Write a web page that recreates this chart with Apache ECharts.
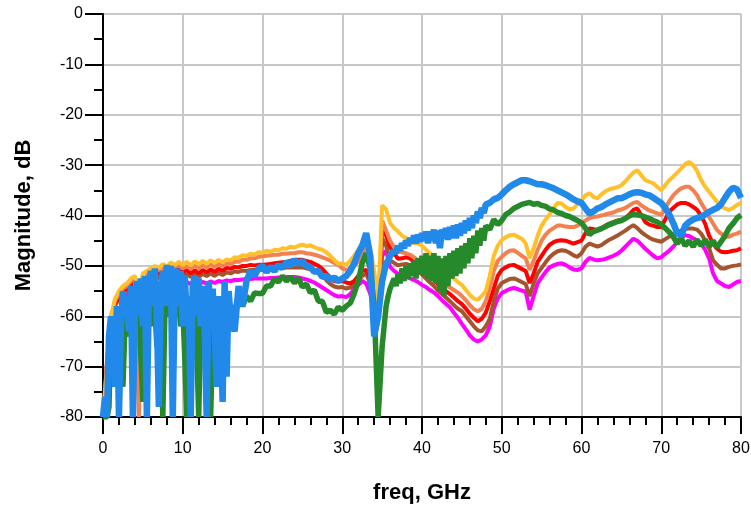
<!DOCTYPE html>
<html>
<head>
<meta charset="utf-8">
<script src="https://cdn.jsdelivr.net/npm/echarts@6/dist/echarts.min.js"></script>
<style>
  html, body { margin: 0; padding: 0; background: #fff; }
  #chart { width: 751px; height: 506px; }
</style>
</head>
<body>
<div id="chart"></div>
<script>
// frequency grids, GHz
// coarse grid (0.5 GHz) for the smooth traces
var freq = [];
for (var i = 0; i <= 160; i++) freq.push(i * 0.5);
// finer grid where the blue / green traces are noisy
var fineSegments = [[0, 16, 0.25], [16.5, 35.5, 0.5], [35.75, 48, 0.25], [48.5, 80, 0.5]];
var freqFine = [];
fineSegments.forEach(function (s) {
    for (var f = s[0]; f <= s[1] + 1e-9; f += s[2]) freqFine.push(Math.round(f * 100) / 100);
});

// magnitudes in dB, on freq
var yellow = [
  -80, -70, -60, -56.5, -55, -54, -53.5, -52.5, -52, -55,
  -51.5, -51, -50.5, -50, -50.5, -49.6, -50.2, -49.3, -49.8, -49.2,
  -49.8, -49.2, -49.9, -49.1, -49.7, -49.0, -49.6, -48.9, -49.4, -48.8,
  -49.3, -48.7, -48.9, -48.3, -48.4, -47.9, -48.0, -47.6, -47.8, -47.3,
  -47.4, -47.0, -47.2, -46.8, -46.9, -46.5, -46.6, -46.2, -46.4, -46.0,
  -45.8, -46.1, -45.9, -46.3, -46.6, -46.8, -47.3, -48.0, -48.8, -49.6,
  -49.5, -49.8, -49.0, -48.0, -46.8, -45.5, -45.0, -46.5, -51.0, -57.0,
  -38.0, -38.8, -41.5, -42.5, -43.2, -44.0, -44.5, -45.0, -45.5, -45.5,
  -46.0, -46.8, -47.5, -48.5, -49.5, -50.3, -51.0, -51.8, -52.5, -53.2,
  -53.8, -54.8, -55.8, -56.5, -56.7, -56.0, -55.0, -52.0, -48.0, -46.0,
  -44.9, -44.3, -43.9, -43.8, -44.2, -44.6, -45.5, -48.5, -46.5, -44.0,
  -42.0, -40.8, -39.8, -38.6, -37.5, -37.6, -38.3, -38.8, -38.6, -37.8,
  -37.0, -36.0, -35.6, -36.3, -36.6, -35.8, -35.2, -34.8, -34.6, -34.4,
  -34.0, -33.2, -32.3, -31.5, -31.0, -32.0, -33.0, -33.3, -33.6, -34.3,
  -35.0, -34.0, -33.0, -32.3, -31.5, -30.7, -29.8, -29.4, -30.0, -31.2,
  -33.0, -34.3, -35.3, -36.3, -37.3, -38.3, -38.6, -38.9, -38.5, -37.9,
  -37.5
];
var orange = [
  -80, -70, -61, -57, -55.5, -54.5, -54, -53, -52.5, -80,
  -55, -51.8, -51.3, -51.0, -50.8, -50.5, -50.3, -50.0, -50.2, -49.8,
  -50.5, -50.0, -50.6, -49.9, -50.5, -49.8, -50.3, -49.7, -50.2, -49.6,
  -50.0, -49.5, -49.6, -49.2, -49.2, -48.8, -48.8, -48.5, -48.5, -48.2,
  -48.1, -48.0, -47.9, -47.8, -47.8, -47.6, -47.6, -47.5, -47.5, -47.3,
  -47.3, -47.5, -47.6, -47.8, -48.0, -48.3, -48.6, -49.0, -49.4, -49.8,
  -50.5, -50.8, -50.5, -50.0, -49.2, -48.0, -46.5, -48.0, -53.0, -59.0,
  -41.0, -43.0, -45.0, -46.3, -47.0, -47.3, -47.5, -47.8, -48.3, -48.9,
  -49.6, -50.3, -51.0, -51.8, -52.5, -53.2, -53.8, -54.3, -54.8, -55.3,
  -56.0, -56.8, -57.8, -58.6, -59.0, -58.5, -57.0, -54.5, -51.0, -49.0,
  -48.2, -47.5, -47.0, -46.9, -47.4, -48.0, -48.5, -50.8, -49.0, -46.8,
  -45.0, -43.8, -43.0, -42.5, -42.0, -42.0, -42.2, -42.3, -42.3, -42.0,
  -41.5, -41.0, -40.5, -40.3, -40.2, -40.0, -39.8, -39.6, -39.4, -39.0,
  -38.8, -38.5, -38.0, -37.5, -37.3, -38.0, -38.5, -39.0, -39.3, -39.6,
  -39.9, -38.5, -37.2, -36.0, -35.2, -34.6, -34.3, -34.3, -35.0, -36.0,
  -37.5, -38.8, -40.3, -41.6, -42.9, -43.6, -44.2, -44.2, -43.8, -43.6,
  -43.2
];
var red = [
  -80, -69, -61, -57.5, -56, -55, -54.5, -53.5, -53, -74,
  -56, -52.5, -52, -51.8, -51.5, -51.3, -51.0, -50.8, -51.0, -50.6,
  -51.3, -50.8, -51.5, -50.9, -51.5, -50.8, -51.3, -50.7, -51.2, -50.6,
  -51.0, -50.4, -50.6, -50.2, -50.3, -50.0, -50.0, -49.8, -49.9, -49.8,
  -49.8, -49.7, -49.6, -49.5, -49.4, -49.3, -49.2, -49.0, -48.9, -48.8,
  -48.8, -49.0, -49.2, -49.6, -50.0, -50.6, -51.5, -52.3, -53.0, -53.1,
  -53.0, -53.3, -53.5, -53.0, -52.0, -51.0, -50.8, -52.5, -56.0, -60.0,
  -42.5, -44.0, -46.3, -47.5, -48.6, -48.5, -48.3, -48.5, -49.3, -49.8,
  -50.5, -51.3, -52.0, -52.8, -53.6, -54.3, -55.0, -55.6, -56.3, -57.0,
  -57.6, -58.5, -59.5, -60.3, -61.0, -60.5, -59.3, -57.0, -54.5, -52.0,
  -50.8, -50.3, -49.9, -49.8, -50.2, -50.6, -51.0, -53.4, -51.5, -49.2,
  -48.0, -46.8, -45.8, -45.3, -45.0, -44.9, -45.0, -45.3, -45.6, -45.3,
  -45.0, -43.5, -42.6, -42.7, -42.9, -42.5, -42.0, -41.6, -41.3, -41.0,
  -40.9, -40.5, -39.8, -38.9, -38.6, -40.0, -41.3, -41.8, -42.0, -42.3,
  -42.3, -40.8, -39.2, -38.5, -37.8, -37.5, -37.5, -37.8, -38.3, -38.9,
  -40.0, -41.6, -44.0, -45.6, -46.6, -47.2, -47.3, -47.2, -47.0, -46.9,
  -46.5
];
var brown = [
  -80, -72, -62, -58, -56.5, -55.5, -55, -54, -53.5, -75,
  -57, -53.2, -52.8, -52.5, -52.3, -52.0, -51.8, -51.6, -51.8, -51.5,
  -52.0, -51.6, -52.2, -51.6, -52.2, -51.6, -52.0, -51.5, -52.0, -51.4,
  -51.8, -51.3, -51.5, -51.1, -51.2, -50.9, -51.0, -50.8, -50.8, -50.7,
  -50.8, -50.6, -50.5, -50.5, -50.4, -50.3, -50.3, -50.3, -50.3, -50.3,
  -50.3, -50.5, -50.7, -51.0, -51.3, -51.8, -52.8, -53.6, -54.1, -54.3,
  -54.2, -54.5, -54.3, -53.7, -53.0, -52.0, -51.5, -53.5, -57.0, -60.5,
  -44.5, -46.0, -48.9, -49.4, -49.9, -49.7, -49.6, -49.9, -50.4, -51.0,
  -51.7, -52.5, -53.3, -54.0, -54.9, -55.6, -56.3, -57.0, -57.8, -58.5,
  -59.0, -60.0, -61.0, -62.0, -62.8, -63.0, -62.0, -60.5, -57.0, -54.5,
  -53.4, -53.0, -52.6, -52.5, -52.8, -53.2, -53.6, -56.0, -53.5, -51.5,
  -50.4, -49.3, -48.3, -47.6, -47.1, -46.9, -47.0, -47.4, -47.9, -48.2,
  -47.5, -46.2, -45.6, -45.9, -46.2, -45.9, -45.3, -44.8, -44.4, -44.0,
  -43.5, -43.0, -42.4, -41.9, -42.5, -43.3, -43.9, -44.4, -44.8, -45.0,
  -45.2, -44.7, -44.2, -43.8, -43.4, -43.0, -42.7, -42.6, -42.6, -42.8,
  -43.6, -44.9, -46.5, -48.9, -49.8, -50.5, -50.5, -50.2, -50.0, -49.9,
  -49.7
];
var magenta = [
  -80, -72, -60, -58, -59, -57, -56, -55, -54.5, -73,
  -58, -55, -54.5, -54, -54, -53.8, -53.5, -53.3, -53.4, -53.2,
  -53.5, -53.2, -53.6, -53.2, -53.6, -53.2, -53.5, -53.1, -53.4, -53.0,
  -53.2, -52.9, -53.0, -52.8, -52.8, -52.7, -52.6, -52.6, -52.5, -52.5,
  -52.5, -52.5, -52.4, -52.4, -52.3, -52.3, -52.2, -52.2, -52.2, -52.3,
  -52.5, -52.7, -53.0, -53.3, -53.8, -54.3, -54.8, -55.3, -55.8, -56.1,
  -56.0, -56.2, -55.6, -54.5, -53.8, -53.0, -53.5, -55.5, -58.5, -61.0,
  -48.0, -47.0, -50.2, -51.0, -51.6, -51.9, -52.2, -52.5, -52.8, -53.2,
  -53.8, -54.2, -54.8, -55.3, -56.0, -56.8, -57.5, -58.2, -59.3, -60.3,
  -61.5, -62.6, -63.8, -64.6, -65.0, -64.6, -63.8, -62.0, -58.5, -56.5,
  -55.4, -55.0, -54.6, -54.4, -54.6, -54.9, -55.1, -58.7, -56.0, -53.5,
  -52.3, -51.2, -50.3, -49.9, -49.6, -49.5, -49.8, -50.3, -50.7, -50.8,
  -50.5, -49.2, -48.4, -48.7, -48.9, -48.8, -48.6, -48.3, -48.0, -47.6,
  -47.0, -46.2, -45.4, -44.6, -45.0, -45.8, -46.6, -47.3, -48.0, -48.5,
  -48.3, -47.6, -47.0, -46.2, -45.3, -44.4, -43.9, -44.1, -44.5, -44.9,
  -45.6, -46.8, -48.5, -51.5, -53.0, -53.5, -54.0, -54.2, -53.7, -53.2,
  -53.0
];

// magnitudes in dB on freqFine
var green = [
  // 0 .. 16 (0.25)
  -80, -80, -80, -78,  -62, -66, -60, -64,  -60, -66, -74, -62,
  -58, -64, -60, -66,  -58, -62, -56, -68,  -77, -62, -56, -60,
  -55, -62, -58, -66,  -54, -62, -80, -60,  -56, -60, -58, -62,
  -55, -60, -57, -62,  -58, -68, -80, -64,  -56, -60, -58, -66,
  -80, -62, -57, -60,  -58, -66, -80, -64,  -58, -62, -60, -64,
  -60, -62, -64, -60,  -58,
  // 16.5 .. 35.5 (0.5)
  -59, -56, -58, -56, -57, -55.4, -55.5,
  -55.5, -54.0, -54.0, -52.6, -53.2, -52.0, -53.0, -52.2, -53.4, -52.4,
  -54.2, -53.6, -55.3, -54.8, -57.0, -57.0, -59.2, -58.8, -59.6, -58.2,
  -58.8, -58.0, -57.4, -55.5, -53.0, -49.5, -47.5, -50.5, -58.0, -80.0,
  -66.0, -58.0,
  // 35.75 .. 48 (0.25)
  -56, -54.5, -53.5, -52.5, -54, -51.5, -53.5, -50.5, -53, -50,
  -52.5, -49.5, -52, -49, -52.5, -48.5, -51.5, -48, -52, -47.5,
  -52.5, -48, -53, -47.5, -53.5, -48, -55, -48.5, -56, -48,
  -54, -47.5, -52.5, -47, -52, -46.5, -51.5, -46, -50.5, -45.5,
  -49.5, -44.5, -48.5, -44, -47.5, -43, -46, -42.5, -45, -42,
  // 48.5 .. 80 (0.5)
  -42.8, -40.8, -41.8,
  -41.0, -39.8, -39.3, -38.6, -38.2, -37.8, -37.6, -37.4, -37.8, -37.6,
  -38.0, -38.2, -38.7, -38.9, -39.4, -39.6, -40.0, -40.2, -40.6, -41.0,
  -41.5, -42.5, -43.8, -43.2, -42.9, -42.6, -42.2, -41.8, -41.5, -41.2,
  -41.0, -40.6, -40.1, -39.8, -39.9, -40.0, -40.3, -40.6, -41.0, -41.3,
  -41.8, -42.5, -43.3, -44.2, -45.6, -44.5, -46.0, -45.0, -46.2, -44.8,
  -46.0, -44.8, -46.2, -45.0, -46.3, -45.2, -44.0, -42.5, -41.6, -40.5,
  -39.9
];
var blue = [
  // 0 .. 16 (0.25)
  -80, -76, -80, -64,  -60, -66, -74, -58,  -80, -62, -55, -60,
  -56, -63, -54, -80,  -58, -53, -60, -52.5,  -62, -52, -80, -55,
  -51, -58, -50.5, -60,  -78, -56, -51, -58,  -49.8, -57, -50, -80,
  -54, -50.5, -58, -51,  -62, -52, -60, -56,  -80, -54, -52, -60,
  -52.5, -62, -54, -62,  -80, -53, -60, -54.5,  -63, -74, -56, -62,
  -77, -53, -72, -55,  -60,
  // 16.5 .. 35.5 (0.5)
  -63, -54, -58, -53, -51, -52, -50.5,
  -50.0, -51.2, -50.2, -51.0, -49.8, -50.5, -49.2, -50.0, -48.8, -49.6,
  -49.0, -50.0, -50.3, -51.2, -51.0, -52.2, -52.0, -52.8, -52.3, -53.0,
  -52.5, -52.0, -51.0, -49.5, -47.5, -46.0, -43.5, -48.0, -64.0, -60.0,
  -53.0, -49.5,
  // 35.75 .. 48 (0.25)
  -49, -48, -47.5, -47, -47.5, -46, -47, -45.5, -46.5, -45,
  -46, -44.5, -45.5, -44, -45.5, -43.8, -45.2, -43.5, -45, -43.2,
  -45.5, -43.2, -45, -42.8, -45.5, -43, -46.5, -42.8, -44.5, -42.5,
  -44.8, -42.3, -44.5, -42, -44.5, -41.8, -44, -41.5, -43.5, -41,
  -43, -40.5, -42.5, -40, -41.5, -39.2, -40.5, -38.5, -39.5, -37.8,
  // 48.5 .. 80 (0.5)
  -37.5, -36.8, -36.5,
  -35.8, -35.0, -34.3, -33.8, -33.4, -33.0, -33.0, -33.2, -33.5, -33.8,
  -33.8, -34.0, -34.3, -34.6, -35.0, -35.4, -35.8, -36.3, -36.8, -37.2,
  -37.5, -38.6, -39.6, -39.2, -38.6, -38.3, -37.8, -37.4, -37.0, -36.6,
  -36.6, -36.2, -35.8, -35.5, -35.4, -35.5, -35.8, -36.0, -36.5, -37.0,
  -37.5, -38.5, -39.8, -41.5, -43.5, -44.0, -42.0, -41.3, -40.8, -40.5,
  -40.3, -39.8, -39.3, -38.9, -38.5, -37.8, -36.5, -35.3, -34.5, -34.8,
  -36.5
];

var xTicks = [0, 10, 20, 30, 40, 50, 60, 70, 80];
var yTicks = [-80, -70, -60, -50, -40, -30, -20, -10, 0];

var chart = echarts.init(document.getElementById('chart'));

function line(name, xs, values, color, width) {
    return {
        name: name,
        type: 'line',
        symbol: 'none',
        data: xs.map(function (f, i) { return [f, values[i]]; }),
        lineStyle: { color: color, width: width },
        itemStyle: { color: color },
        clip: true
    };
}

var font = 'Liberation Sans, Arial, sans-serif';

chart.setOption({
    animation: false,
    backgroundColor: '#fff',
    grid: { left: 103, right: 10, top: 14, bottom: 89, containLabel: false, outerBoundsMode: 'none' },
    xAxis: {
        type: 'value',
        min: xTicks[0],
        max: xTicks[xTicks.length - 1],
        interval: 10,
        name: 'freq, GHz',
        nameLocation: 'middle',
        nameGap: 65,
        nameTextStyle: { fontFamily: font, fontSize: 22, fontWeight: 'bold', color: '#000' },
        axisLine: { onZero: false, lineStyle: { color: '#000', width: 2 } },
        axisTick: { length: 17, lineStyle: { color: '#000', width: 2 } },
        minorTick: { show: true, splitNumber: 5, length: 8, lineStyle: { color: '#000', width: 2 } },
        axisLabel: { margin: 24, fontFamily: font, fontSize: 16, color: '#000' },
        splitLine: { show: true, lineStyle: { color: '#c8c8c8', width: 2 } }
    },
    yAxis: {
        type: 'value',
        min: yTicks[0],
        max: yTicks[yTicks.length - 1],
        interval: 10,
        name: 'Magnitude, dB',
        nameLocation: 'middle',
        nameGap: 68,
        nameTextStyle: { fontFamily: font, fontSize: 22, fontWeight: 'bold', color: '#000' },
        axisLine: { show: true, onZero: false, lineStyle: { color: '#000', width: 2 } },
        axisTick: { show: true, length: 18, lineStyle: { color: '#000', width: 2 } },
        minorTick: { show: true, splitNumber: 2, length: 9, lineStyle: { color: '#000', width: 2 } },
        axisLabel: { margin: 20, fontFamily: font, fontSize: 16, color: '#000' },
        splitLine: { show: true, lineStyle: { color: '#c8c8c8', width: 2 } }
    },
    series: [
        line('magenta', freq, magenta, '#ff00ff', 4),
        line('brown', freq, brown, '#a5552e', 4),
        line('red', freq, red, '#ff0000', 4),
        line('orange', freq, orange, '#f3814f', 4),
        line('yellow', freq, yellow, '#ffc02a', 4),
        line('green', freqFine, green, '#26892a', 5.5),
        line('blue', freqFine, blue, '#2189ea', 6.5)
    ]
});
</script>
</body>
</html>
